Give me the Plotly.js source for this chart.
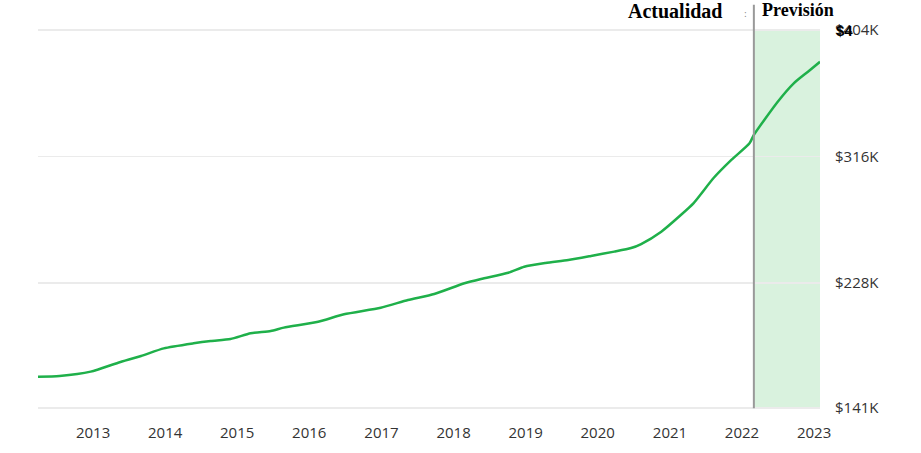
<!DOCTYPE html>
<html>
<head>
<meta charset="utf-8">
<script src="https://cdn.plot.ly/plotly-3.0.1.min.js"></script>
<style>html,body{margin:0;padding:0;background:#fff;}#chart{width:921px;height:453px;}</style>
</head>
<body>
<div id="chart"></div>
<script>
// Data (values in $K)
const dates = ["2012-03-28","2012-07-15","2012-12-20","2013-05-08","2013-09-01","2013-12-25",
  "2014-05-25","2014-08-20","2014-11-28","2015-03-10","2015-06-20","2015-08-25","2016-02-15",
  "2016-06-25","2016-12-28","2017-05-15","2017-09-25","2018-02-25","2018-05-20","2018-10-05",
  "2018-12-25","2019-04-12","2019-08-05","2019-11-28","2020-03-25","2020-06-18","2020-08-08",
  "2020-11-18","2021-02-25","2021-05-01","2021-08-10","2021-11-08","2022-02-08","2022-03-02",
  "2022-07-01","2022-09-20","2022-12-01","2023-01-31"];
const values = [162.8,163.3,166.3,172.5,177.2,182.5,186.0,187.6,189.0,193.0,194.6,196.9,201.0,
  206.2,210.8,216.1,220.3,227.8,230.8,235.1,239.3,241.9,244.0,246.8,249.8,252.3,255.1,263.7,
  275.3,283.6,301.0,313.6,325.2,331.0,354.1,366.9,375.0,381.9];
const yTickVals = [141,228,316,404];
const yTickText = ["$141K","$228K","$316K","$404K"];
const xTickVals = ["2013-01-01","2014-01-01","2015-01-01","2016-01-01","2017-01-01","2018-01-01",
  "2019-01-01","2020-01-01","2021-01-01","2022-01-01","2023-01-01"];
const xTickText = ["2013","2014","2015","2016","2017","2018","2019","2020","2021","2022","2023"];
const forecastStart = "2022-03-02";
const xStart = "2012-03-28";
const xEnd = "2023-01-31";

const trace = {
  x: dates, y: values, type: 'scatter', mode: 'lines',
  line: {color: '#1fb04a', width: 2.5, shape: 'spline', smoothing: 0.6},
  hoverinfo: 'skip'
};

const layout = {
  width: 921, height: 453,
  margin: {l: 38, r: 101, t: 29, b: 44},
  paper_bgcolor: '#fff', plot_bgcolor: '#fff',
  showlegend: false,
  font: {family: '"Open Sans", sans-serif', color: '#333', size: 14},
  xaxis: {
    type: 'date', range: [xStart, xEnd],
    tickvals: xTickVals, ticktext: xTickText,
    showgrid: false, zeroline: false, showline: false, ticks: '',
    ticklabelstandoff: 13,
    tickfont: {size: 15, color: '#333'}
  },
  yaxis: {
    side: 'right', range: [140.3, 404.7],
    tickvals: yTickVals, ticktext: yTickText,
    showgrid: true, gridcolor: '#ebebeb', gridwidth: 1.5,
    zeroline: false, showline: false, ticks: '',
    ticklabelstandoff: 14,
    tickfont: {size: 15, color: '#333'}
  },
  shapes: [
    {type: 'rect', xref: 'x', yref: 'y', x0: forecastStart, x1: xEnd, y0: 141, y1: 404,
     fillcolor: '#d9f2de', line: {width: 0}, layer: 'below'},
    {type: 'line', xref: 'x', yref: 'paper', x0: forecastStart, x1: forecastStart, y0: 0.002, y1: 1.064,
     line: {color: '#999', width: 2}, layer: 'above'}
  ],
  annotations: [
    {text: '<b>Actualidad</b>', xref: 'paper', yref: 'paper', x: (675-38)/782, y: 1 + (30-12)/380,
     xanchor: 'center', yanchor: 'middle', showarrow: false,
     font: {family: '"Liberation Serif", "Times New Roman", serif', size: 20, color: '#000'}},
    {text: '<b>Previsión</b>', xref: 'paper', yref: 'paper', x: (760-38)/782, y: 1 + (30-11)/380,
     xanchor: 'left', yanchor: 'middle', showarrow: false,
     font: {family: '"Liberation Serif", "Times New Roman", serif', size: 18, color: '#000'}},
    {text: ':', xref: 'paper', yref: 'paper', x: (745-38)/782, y: 1 + (30-14)/380,
     xanchor: 'center', yanchor: 'middle', showarrow: false,
     font: {family: '"Liberation Serif", serif', size: 10, color: '#888'}},
    {text: '<b>$4</b>', xref: 'paper', yref: 'y', x: 1 + (834-820)/782, y: 404,
     xanchor: 'left', yanchor: 'middle', showarrow: false,
     font: {family: '"Liberation Sans", Arial, sans-serif', size: 15, color: '#000'}}
  ]
};

Plotly.newPlot('chart', [trace], layout, {displayModeBar: false, staticPlot: true});
</script>
</body>
</html>
